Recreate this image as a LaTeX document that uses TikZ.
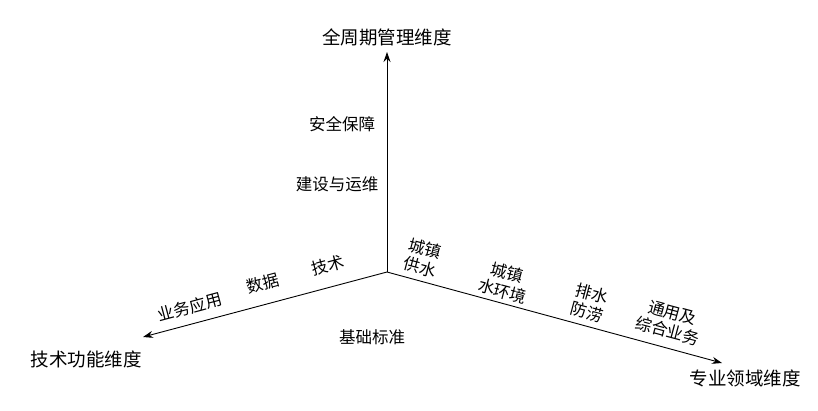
\documentclass[tikz,border=0pt]{standalone}
\usepackage{fontspec}
\newfontfamily\cjk{Noto Sans CJK SC}
\usetikzlibrary{arrows.meta}
\begin{document}
\begin{tikzpicture}[x=1pt,y=-1pt,
  axis/.style={line width=0.9pt,-{Stealth[length=10pt,width=7pt]}},
  title/.style={font=\cjk\fontsize{18.5}{22}\selectfont,inner sep=0pt},
  lbl/.style={font=\cjk\fontsize{16.5}{19}\selectfont,inner sep=0pt,align=center}]
\useasboundingbox (0,0) rectangle (818,410);
\coordinate (O) at (387,272);
\coordinate (T) at (387,52);
\coordinate (L) at (143,337);
\coordinate (R) at (722,363);
\draw[axis] (O) -- (T);
\draw[axis] (O) -- (L);
\draw[axis] (O) -- (R);
\node[title] (t1) at (387,37) {全周期管理维度};
\node[title] (t2) at (86,359) {技术功能维度};
\node[title] (t3) at (745,378) {专业领域维度};
\node[lbl] (v1) at (342,124) {安全保障};
\node[lbl] (v2) at (337,184) {建设与运维};
\node[lbl,rotate=15] (l1) at (328,265) {技术};
\node[lbl,rotate=15] (l2) at (263,283) {数据};
\node[lbl,rotate=15] (l3) at (190,307) {业务应用};
\node[lbl,rotate=-15] (r1) at (423,258) {城镇\\供水};
\node[lbl,rotate=-15] (r2) at (505,282) {城镇\\水环境};
\node[lbl,rotate=-15] (r3) at (590,303) {排水\\防涝};
\node[lbl,rotate=-15] (r4) at (670,322) {通用及\\综合业务};
\node[lbl] (b) at (372,337) {基础标准};
\end{tikzpicture}
\end{document}
